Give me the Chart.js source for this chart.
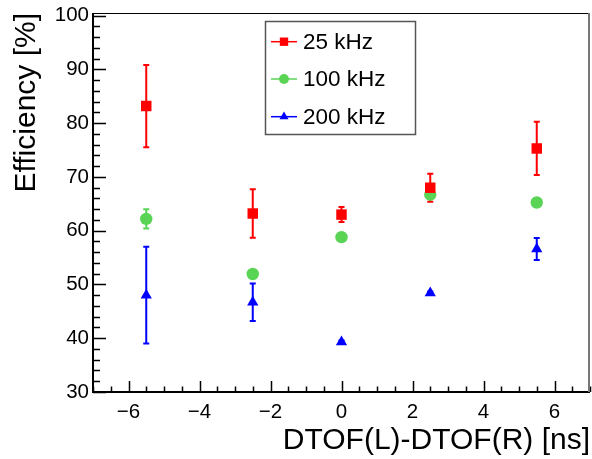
<!DOCTYPE html>
<html>
<head>
<meta charset="utf-8">
<script src="https://cdn.jsdelivr.net/npm/chart.js@4.4.1/dist/chart.umd.min.js"></script>
<style>
html, body { margin: 0; padding: 0; background: #fff; }
canvas { display: block; }
</style>
</head>
<body>
<canvas id="grafico" width="592" height="459"></canvas>
<script>
// Dados
const posicoesX = [-5.5, -2.5, 0, 2.5, 5.5];
const efic25 = [83.2, 63.2, 63.0, 68.0, 75.3];
const erro25 = [7.65, 4.5, 1.4, 2.6, 4.95];
const efic100 = [62.2, 51.95, 58.8, 66.7, 65.25];
const erro100 = [1.8, 0.3, 0.3, 0.3, 0.3];
const efic200 = [48.0, 46.7, 39.3, 48.4, 56.6];
const erro200 = [9.0, 3.5, 0.3, 0.3, 2.05];
const rotulosSerie = ['25 kHz', '100 kHz', '200 kHz'];
const ticksX = [-6, -4, -2, 0, 2, 4, 6];
const ticksY = [30, 40, 50, 60, 70, 80, 90, 100];

const FONTE = "'Liberation Sans', Arial, Helvetica, sans-serif";
Chart.defaults.font.family = FONTE;
Chart.defaults.color = '#000';

function pontos(valores) {
    return posicoesX.map((x, i) => ({ x: x, y: valores[i] }));
}

// Barras de erro (desenhadas antes dos marcadores)
const barrasErro = {
    id: 'barrasErro',
    beforeDatasetsDraw(chart) {
        const ctx = chart.ctx;
        const yScale = chart.scales.y;
        chart.data.datasets.forEach((ds, d) => {
            const meta = chart.getDatasetMeta(d);
            ctx.save();
            ctx.strokeStyle = ds.borderColor;
            ctx.lineWidth = 2;
            meta.data.forEach((pt, i) => {
                const v = ds.data[i].y;
                const e = ds.erros[i];
                const yTop = yScale.getPixelForValue(v + e);
                const yBot = yScale.getPixelForValue(v - e);
                ctx.beginPath();
                ctx.moveTo(pt.x, yTop);
                ctx.lineTo(pt.x, yBot);
                ctx.moveTo(pt.x - 3, yTop);
                ctx.lineTo(pt.x + 3, yTop);
                ctx.moveTo(pt.x - 3, yBot);
                ctx.lineTo(pt.x + 3, yBot);
                ctx.stroke();
            });
            ctx.restore();
        });
    }
};

// Moldura e ticks estilo ROOT (para dentro)
const moldura = {
    id: 'moldura',
    afterDraw(chart) {
        const ctx = chart.ctx;
        const a = chart.chartArea;
        const xs = chart.scales.x, ys = chart.scales.y;
        ctx.save();
        ctx.strokeStyle = '#000';
        ctx.lineWidth = 1.5;
        // ticks eixo y
        ctx.beginPath();
        for (let v = 30; v <= ys.max + 1e-6; v += 2) {
            const py = Math.round(ys.getPixelForValue(v)) + 0.5;
            const len = (v % 10 === 0) ? 13 : 7;
            ctx.moveTo(a.left, py);
            ctx.lineTo(a.left + len, py);
        }
        // ticks eixo x
        for (let v = xs.min; v <= xs.max + 1e-6; v += 0.5) {
            const px = Math.round(xs.getPixelForValue(v)) + 0.5;
            const len = (Math.abs(v % 2) < 1e-6) ? 11 : 5.5;
            ctx.moveTo(px, a.bottom);
            ctx.lineTo(px, a.bottom - len);
        }
        ctx.stroke();
        // eixos
        ctx.lineWidth = 2;
        ctx.beginPath();
        ctx.moveTo(a.left, a.top);
        ctx.lineTo(a.left, a.bottom);
        ctx.lineTo(a.right, a.bottom);
        ctx.stroke();
        ctx.lineWidth = 1.2;
        ctx.beginPath();
        ctx.moveTo(a.left, a.top + 0.5);
        ctx.lineTo(a.right, a.top + 0.5);
        ctx.stroke();
        ctx.strokeStyle = '#777';
        ctx.lineWidth = 2;
        ctx.beginPath();
        ctx.moveTo(a.right - 1, a.top);
        ctx.lineTo(a.right - 1, a.bottom);
        ctx.stroke();
        ctx.restore();
    }
};

// Legenda com linha + marcador
const legendaRoot = {
    id: 'legendaRoot',
    afterDraw(chart) {
        const ctx = chart.ctx;
        ctx.save();
        ctx.strokeStyle = '#555';
        ctx.lineWidth = 1.5;
        ctx.strokeRect(265.5, 21.5, 150, 113);
        const linhasY = [41.7, 79, 116.7];
        chart.data.datasets.forEach((ds, d) => {
            const y = linhasY[d];
            ctx.strokeStyle = ds.borderColor;
            ctx.lineWidth = 1.5;
            ctx.beginPath();
            ctx.moveTo(271, y);
            ctx.lineTo(297, y);
            ctx.stroke();
            ctx.fillStyle = ds.backgroundColor;
            Chart.helpers.drawPoint(ctx, {
                pointStyle: ds.pointStyle,
                radius: ds.pointRadius * 0.8,
                rotation: 0,
                borderWidth: 0
            }, 284, y);
            ctx.fillStyle = '#000';
            ctx.font = '22.5px ' + FONTE;
            ctx.textBaseline = 'middle';
            ctx.textAlign = 'left';
            ctx.fillText(ds.label, 303, y + 1);
        });
        ctx.restore();
    }
};

const ctxGrafico = document.getElementById('grafico').getContext('2d');
new Chart(ctxGrafico, {
    type: 'scatter',
    data: {
        datasets: [
            {
                label: rotulosSerie[0],
                data: pontos(efic25),
                erros: erro25,
                backgroundColor: '#ff0000',
                borderColor: '#ff0000',
                pointStyle: 'rect',
                pointRadius: 7.4,
                pointBorderWidth: 0
            },
            {
                label: rotulosSerie[1],
                data: pontos(efic100),
                erros: erro100,
                backgroundColor: '#59d454',
                borderColor: '#59d454',
                pointStyle: 'circle',
                pointRadius: 6.2,
                pointBorderWidth: 0
            },
            {
                label: rotulosSerie[2],
                data: pontos(efic200),
                erros: erro200,
                backgroundColor: '#0000ff',
                borderColor: '#0000ff',
                pointStyle: 'triangle',
                pointRadius: 6.5,
                pointBorderWidth: 0
            }
        ]
    },
    options: {
        responsive: false,
        animation: false,
        events: [],
        layout: {
            autoPadding: false,
            padding: { top: 13, right: 2, left: 0, bottom: 0 }
        },
        plugins: {
            legend: { display: false },
            tooltip: { enabled: false }
        },
        scales: {
            x: {
                type: 'linear',
                min: -7,
                max: 7,
                afterBuildTicks: (scale) => {
                    scale.ticks = ticksX.map(v => ({ value: v }));
                },
                afterFit: (scale) => {
                    scale.height = 67;
                    scale.paddingLeft = 0;
                    scale.paddingRight = 0;
                },
                grid: { display: false, drawTicks: false },
                border: { display: false },
                ticks: {
                    font: { size: 20.5 },
                    color: '#000',
                    padding: 8,
                    maxRotation: 0,
                    callback: (v) => v < 0 ? '\u2212' + Math.abs(v) : String(v)
                },
                title: {
                    display: true,
                    text: 'DTOF(L)-DTOF(R) [ns]',
                    align: 'end',
                    color: '#000',
                    font: { size: 30 },
                    padding: { top: 0, bottom: 0 }
                }
            },
            y: {
                type: 'linear',
                min: 30,
                max: 100.5,
                afterBuildTicks: (scale) => {
                    scale.ticks = ticksY.map(v => ({ value: v }));
                },
                afterFit: (scale) => {
                    scale.width = 93;
                    scale.paddingTop = 0;
                    scale.paddingBottom = 0;
                },
                grid: { display: false, drawTicks: false },
                border: { display: false },
                ticks: {
                    font: { size: 20.5 },
                    color: '#000',
                    padding: 4
                },
                title: {
                    display: true,
                    text: 'Efficiency [%]',
                    align: 'end',
                    color: '#000',
                    font: { size: 30 },
                    padding: { top: 9, bottom: 0 }
                }
            }
        }
    },
    plugins: [barrasErro, moldura, legendaRoot]
});
</script>
</body>
</html>
